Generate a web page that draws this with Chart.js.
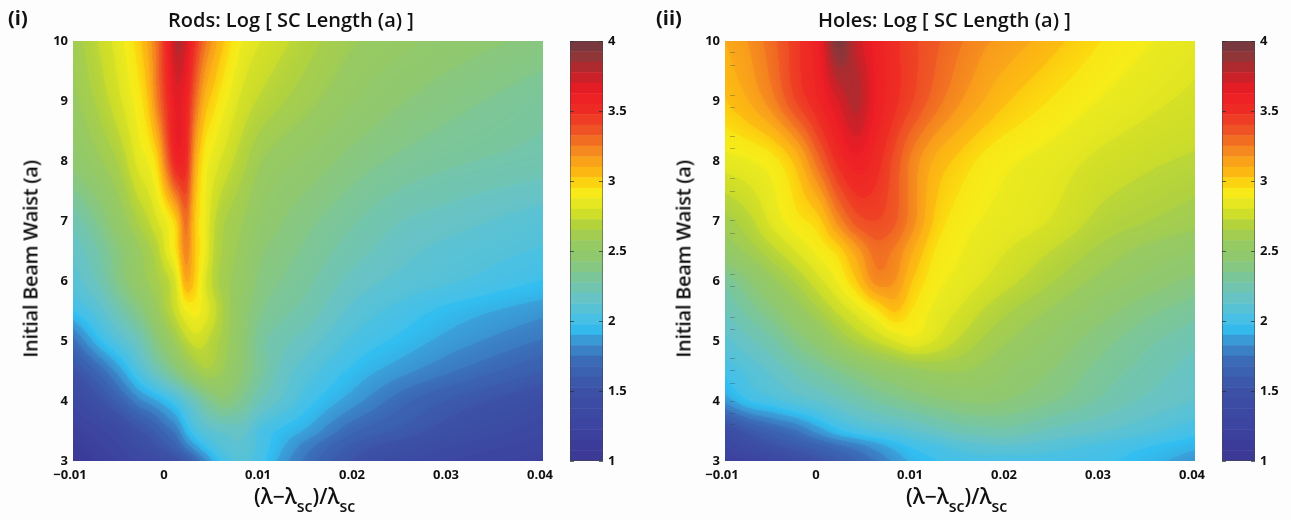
<!DOCTYPE html>
<html>
<head>
<meta charset="utf-8">
<title>SC length maps</title>
<script src="https://cdn.jsdelivr.net/npm/chart.js@4"></script>
<style>
html,body{margin:0;padding:0;background:#fdfdfe;}
#page{position:relative;width:1291px;height:520px;overflow:hidden;filter:blur(0.6px);font-family:"Open Sans",sans-serif;color:#111;}
#page canvas{position:absolute;top:0;}
.txt{position:absolute;white-space:nowrap;}
.panelTitle{top:6px;font-size:20px;font-weight:600;}
.tag{top:4px;font-size:20px;font-weight:700;}
.xt{top:482px;font-size:21px;font-weight:600;}
.xt sub{font-size:16px;vertical-align:-8px;line-height:0;}
.yt{font-size:20px;font-weight:600;letter-spacing:-0.3px;transform:translate(-50%,-50%) rotate(-90deg);top:259px;}
</style>
</head>
<body>
<div id="page">
<canvas id="rods" style="left:0" width="560" height="520"></canvas>
<canvas id="rodsBar" style="left:560px" width="92" height="520"></canvas>
<canvas id="holes" style="left:652px" width="560" height="520"></canvas>
<canvas id="holesBar" style="left:1212px" width="79" height="520"></canvas>
<div class="txt tag" style="left:8px">(i)</div>
<div class="txt panelTitle" style="left:168px">Rods: Log [ SC Length (a) ]</div>
<div class="txt yt" style="left:30px">Initial Beam Waist (a)</div>
<div class="txt xt" style="left:254px">(λ−λ<sub>sc</sub>)/λ<sub>sc</sub></div>
<div class="txt tag" style="left:656px">(ii)</div>
<div class="txt panelTitle" style="left:818px">Holes: Log [ SC Length (a) ]</div>
<div class="txt yt" style="left:683px">Initial Beam Waist (a)</div>
<div class="txt xt" style="left:906px">(λ−λ<sub>sc</sub>)/λ<sub>sc</sub></div>
</div>
<script>
// values, log10 of the SC length
const beamWaist=[10,9,8,7,6.5,6,5.5,5,4.5,4,3.5,3.25,3];
const rodsDetuning=[-0.01,-0.0075,-0.005,-0.003,-0.002,-0.001,0,0.001,0.002,0.003,0.004,0.005,0.006,0.008,0.01,0.0125,0.015,0.02,0.025,0.03,0.04];
const rodsLog=[
[2.60,2.72,2.85,3.00,3.12,3.30,3.55,3.80,3.72,3.48,3.28,3.14,3.03,2.87,2.80,2.74,2.68,2.58,2.52,2.47,2.40],
[2.55,2.66,2.79,2.92,3.03,3.25,3.48,3.66,3.58,3.30,3.08,2.98,2.90,2.78,2.71,2.65,2.60,2.50,2.43,2.38,2.30],
[2.45,2.55,2.67,2.83,2.88,3.00,3.30,3.56,3.52,3.12,2.92,2.84,2.78,2.68,2.58,2.52,2.48,2.39,2.33,2.29,2.24],
[2.22,2.35,2.52,2.66,2.72,2.80,2.88,3.02,3.28,3.02,2.88,2.74,2.66,2.58,2.49,2.42,2.37,2.28,2.20,2.16,2.08],
[2.14,2.26,2.42,2.56,2.62,2.70,2.83,2.96,3.22,3.02,2.88,2.72,2.64,2.55,2.44,2.38,2.33,2.23,2.15,2.10,2.04],
[2.08,2.20,2.38,2.52,2.58,2.64,2.70,2.82,3.10,3.00,2.82,2.70,2.62,2.52,2.40,2.34,2.29,2.17,2.10,2.06,1.97],
[1.97,2.08,2.24,2.38,2.46,2.56,2.66,2.76,2.87,2.90,2.84,2.75,2.65,2.48,2.36,2.29,2.24,2.10,2.02,1.95,1.85],
[1.72,1.93,2.08,2.20,2.30,2.41,2.50,2.60,2.70,2.76,2.74,2.68,2.62,2.46,2.30,2.22,2.16,2.03,1.95,1.87,1.74],
[1.50,1.68,1.87,2.05,2.13,2.22,2.30,2.39,2.48,2.57,2.63,2.62,2.57,2.43,2.30,2.16,2.08,1.95,1.85,1.76,1.60],
[1.33,1.47,1.65,1.80,1.85,1.90,1.96,2.03,2.12,2.21,2.30,2.37,2.41,2.33,2.20,2.10,2.00,1.85,1.70,1.59,1.43],
[1.18,1.27,1.37,1.51,1.56,1.63,1.71,1.78,1.92,2.02,2.08,2.12,2.14,2.15,2.03,1.95,1.88,1.68,1.58,1.47,1.32],
[1.12,1.20,1.30,1.42,1.46,1.52,1.58,1.66,1.78,1.88,1.97,2.03,2.08,2.11,2.02,1.90,1.78,1.58,1.47,1.38,1.25],
[1.05,1.15,1.23,1.30,1.33,1.37,1.42,1.48,1.56,1.68,1.80,1.92,2.00,2.07,2.00,1.85,1.72,1.50,1.38,1.30,1.20]
];
const holesDetuning=[-0.01,-0.0075,-0.005,-0.0025,0,0.002,0.004,0.006,0.008,0.01,0.0125,0.015,0.0175,0.02,0.025,0.03,0.035,0.04];
const holesLog=[
[3.10,3.18,3.30,3.45,3.62,3.95,3.75,3.60,3.50,3.42,3.34,3.26,3.19,3.15,3.05,2.95,2.88,2.83],
[3.02,3.10,3.22,3.40,3.55,3.70,3.80,3.62,3.50,3.40,3.28,3.18,3.10,3.03,2.94,2.87,2.82,2.78],
[2.84,2.87,2.92,3.05,3.30,3.50,3.60,3.52,3.38,3.22,3.08,3.00,2.93,2.89,2.84,2.78,2.74,2.71],
[2.62,2.70,2.82,2.92,3.00,3.20,3.36,3.40,3.34,3.20,3.00,2.91,2.87,2.85,2.79,2.70,2.65,2.60],
[2.50,2.60,2.70,2.80,2.90,2.98,3.14,3.28,3.24,3.10,2.94,2.88,2.84,2.80,2.72,2.63,2.55,2.50],
[2.30,2.42,2.55,2.66,2.78,2.88,3.02,3.20,3.18,3.02,2.90,2.85,2.80,2.75,2.65,2.55,2.47,2.40],
[2.20,2.30,2.40,2.52,2.64,2.74,2.83,2.93,3.03,2.94,2.85,2.79,2.72,2.66,2.56,2.46,2.37,2.30],
[2.10,2.18,2.26,2.37,2.47,2.57,2.66,2.73,2.80,2.85,2.79,2.71,2.64,2.58,2.48,2.38,2.29,2.22],
[2.00,2.07,2.14,2.22,2.29,2.35,2.41,2.47,2.51,2.55,2.58,2.58,2.55,2.50,2.42,2.32,2.24,2.16],
[1.85,1.97,2.02,2.08,2.13,2.18,2.23,2.28,2.32,2.36,2.40,2.43,2.44,2.42,2.35,2.26,2.18,2.12],
[1.42,1.56,1.66,1.74,1.86,1.95,2.01,2.05,2.08,2.12,2.17,2.22,2.24,2.25,2.18,2.13,2.07,2.00],
[1.30,1.40,1.50,1.58,1.66,1.73,1.79,1.86,1.93,1.99,2.03,2.08,2.11,2.12,2.08,2.03,1.98,1.92],
[1.15,1.22,1.30,1.40,1.50,1.58,1.66,1.75,1.84,1.92,1.97,2.00,2.01,2.01,2.01,1.99,1.93,1.85]
];
// faint dashes along the left edge of the holes panel
const holesEdgeMarks=[9.82,9.6,9.1,8.9,8.42,8.22,7.72,7.5,7.02,6.8,6.12,5.92,5.4,5.2,4.72,4.52,4.3,4,3.8,3.62];

const xTicks=[-0.01,0,0.01,0.02,0.03,0.04];
const xTickLabels=["−0.01","0","0.01","0.02","0.03","0.04"];
const yTicks=[3,4,5,6,7,8,9,10];
const barTicks=[1,1.5,2,2.5,3,3.5,4];
const contourLevels=[1,1.075,1.15,1.225,1.3,1.375,1.45,1.525,1.6,1.675,1.75,1.825,1.9,1.975,2.05,2.125,2.2,2.275,2.35,2.425,2.5,2.575,2.65,2.725,2.8,2.875,2.95,3.025,3.1,3.175,3.25,3.325,3.4,3.475,3.55,3.625,3.7,3.775,3.85,3.925,4];
const mapValues=[1,1.05,1.24,1.49,1.7,1.79,1.89,1.96,2,2.15,2.29,2.44,2.56,2.67,2.77,2.89,2.96,3.03,3.13,3.24,3.34,3.49,3.63,3.72,3.81,3.89,4];
const mapColors=["#3f3f8c","#3b3896","#3c44a0","#3c50a6","#3b68b5","#3b80c4","#3aa4dc","#30c3f4","#45c0e8","#66c3c8","#78c6a0","#8ec871","#98ca60","#aed140","#d2df26","#f5ee1c","#fbe010","#fdc010","#faa41a","#f37e20","#ef5a25","#ee2d24","#ee1c25","#d21f26","#b02a2e","#8f3538","#6e3a40"];

const tickFont={family:"'Open Sans',sans-serif",size:13,weight:'700'};

function hexRgb(h){
    return [parseInt(h.substr(1,2),16),parseInt(h.substr(3,2),16),parseInt(h.substr(5,2),16)];
}
function rgbAt(v){
    let i=0;
    while(i<mapValues.length-2 && v>mapValues[i+1]) i++;
    let t=(v-mapValues[i])/(mapValues[i+1]-mapValues[i]);
    t=Math.max(0,Math.min(1,t));
    const a=hexRgb(mapColors[i]), b=hexRgb(mapColors[i+1]);
    return [a[0]+(b[0]-a[0])*t,a[1]+(b[1]-a[1])*t,a[2]+(b[2]-a[2])*t];
}
// colour of the contour band a value falls in
function bandRgb(v){
    let k=0;
    while(k<contourLevels.length-2 && v>=contourLevels[k+1]) k++;
    return rgbAt((contourLevels[k]+contourLevels[k+1])/2);
}
// smooth sample between read values, list is ascending
function sample(list,vals,v){
    let i=0;
    while(i<list.length-2 && v>list[i+1]) i++;
    const d=list[i+1]-list[i];
    const t=Math.max(0,Math.min(1,(v-list[i])/d));
    const m0=i>0?(vals[i+1]-vals[i-1])/(list[i+1]-list[i-1]):(vals[1]-vals[0])/d;
    const m1=i<list.length-2?(vals[i+2]-vals[i])/(list[i+2]-list[i]):(vals[i+1]-vals[i])/d;
    const t2=t*t, t3=t2*t;
    return (2*t3-3*t2+1)*vals[i]+(t3-2*t2+t)*d*m0+(3*t2-2*t3)*vals[i+1]+(t3-t2)*d*m1;
}
// sample the read grid through the chart scales and fill the plot area
const contourPlugin={
    id:'contour',
    beforeDatasetsDraw(chart){
        const ds=chart.data.datasets[0];
        const area=chart.chartArea, xs=chart.scales.x, ys=chart.scales.y;
        const w=Math.round(area.right-area.left), h=Math.round(area.bottom-area.top);
        const off=document.createElement('canvas');
        off.width=w; off.height=h;
        const octx=off.getContext('2d');
        const img=octx.createImageData(w,h);
        const rowsAsc=beamWaist.slice().reverse();
        const gridAsc=ds.grid.slice().reverse();
        let p=0;
        for(let r=0;r<h;r++){
            const yv=ys.getValueForPixel(area.top+r+0.5);
            const line=ds.columns.map((_,i)=>sample(rowsAsc,gridAsc.map(g=>g[i]),yv));
            for(let c=0;c<w;c++){
                const v=sample(ds.columns,line,xs.getValueForPixel(area.left+c+0.5));
                // bands stay faint as in the original
                const a=rgbAt(v), b=bandRgb(v);
                img.data[p++]=a[0]*0.55+b[0]*0.45;
                img.data[p++]=a[1]*0.55+b[1]*0.45;
                img.data[p++]=a[2]*0.55+b[2]*0.45;
                img.data[p++]=255;
            }
        }
        octx.putImageData(img,0,0);
        chart.ctx.drawImage(off,area.left,area.top);
    },
    afterDatasetsDraw(chart){
        const marks=chart.data.datasets[0].edgeMarks||[];
        const c=chart.ctx;
        c.save();
        c.strokeStyle='rgba(50,70,80,0.35)';
        c.lineWidth=1;
        marks.forEach(m=>{
            const y=Math.round(chart.scales.y.getPixelForValue(m))+0.5;
            c.beginPath();
            c.moveTo(chart.chartArea.left+5,y);
            c.lineTo(chart.chartArea.left+10,y);
            c.stroke();
        });
        c.restore();
    }
};

function makeMap(id,columns,grid,marks){
    const points=[];
    beamWaist.forEach((y,r)=>columns.forEach((x,i)=>points.push({x:x,y:y,v:grid[r][i]})));
    new Chart(document.getElementById(id),{
        type:'scatter',
        data:{datasets:[{data:points,pointRadius:0,columns:columns,grid:grid,edgeMarks:marks}]},
        options:{
            responsive:false,
            animation:false,
            layout:{padding:{top:41,right:17,left:0,bottom:0}},
            plugins:{legend:{display:false},tooltip:{enabled:false}},
            scales:{
                x:{
                    type:'linear',min:-0.01,max:0.04,
                    grid:{display:false,drawTicks:false},border:{display:false},
                    afterBuildTicks(s){s.ticks=xTicks.map(v=>({value:v}));},
                    afterFit(s){s.height=59;s.paddingLeft=0;s.paddingRight=0;},
                    ticks:{
                        color:'#111',font:tickFont,padding:6,maxRotation:0,autoSkip:false,labelOffset:-3,
                        callback(v){return xTickLabels[xTicks.indexOf(v)];}
                    }
                },
                y:{
                    type:'linear',min:3,max:10,
                    grid:{display:false,drawTicks:false},border:{display:false},
                    afterBuildTicks(s){s.ticks=yTicks.map(v=>({value:v}));},
                    afterFit(s){s.width=73;s.paddingTop=0;s.paddingBottom=0;},
                    ticks:{color:'#111',font:tickFont,padding:5,autoSkip:false}
                }
            }
        },
        plugins:[contourPlugin]
    });
}

// short ticks inside the colour bar and its thin frame
const barFramePlugin={
    id:'barFrame',
    afterDatasetsDraw(chart){
        const c=chart.ctx, a=chart.chartArea;
        c.save();
        c.strokeStyle='rgba(70,70,70,0.55)';
        c.lineWidth=1;
        c.strokeRect(a.left+0.5,a.top+0.5,a.right-a.left-1,a.bottom-a.top-1);
        c.strokeStyle='rgba(30,50,50,0.7)';
        barTicks.forEach(v=>{
            const y=Math.round(chart.scales.y.getPixelForValue(v))+0.5;
            c.beginPath();c.moveTo(a.left,y);c.lineTo(a.left+4,y);c.stroke();
            c.beginPath();c.moveTo(a.right-4,y);c.lineTo(a.right,y);c.stroke();
        });
        c.restore();
    }
};

function makeBar(id,scaleWidth){
    const sets=[];
    for(let k=0;k<contourLevels.length-1;k++){
        const c=bandRgb(contourLevels[k]+0.001);
        sets.push({
            data:[[contourLevels[k],contourLevels[k+1]]],
            backgroundColor:'rgb('+c.map(Math.round).join(',')+')',
            borderWidth:0,barPercentage:1,categoryPercentage:1
        });
    }
    new Chart(document.getElementById(id),{
        type:'bar',
        data:{labels:['SC'],datasets:sets},
        options:{
            responsive:false,
            animation:false,
            layout:{padding:{top:41,left:10,right:0,bottom:59}},
            plugins:{legend:{display:false},tooltip:{enabled:false}},
            scales:{
                x:{display:false,stacked:true},
                y:{
                    type:'linear',position:'right',min:1,max:4,
                    grid:{display:false,drawTicks:false},border:{display:false},
                    afterBuildTicks(s){s.ticks=barTicks.map(v=>({value:v}));},
                    afterFit(s){s.width=scaleWidth;s.paddingTop=0;s.paddingBottom=0;},
                    ticks:{color:'#111',font:tickFont,padding:5,autoSkip:false,callback(v){return String(v);}}
                }
            }
        },
        plugins:[barFramePlugin]
    });
}

makeMap('rods',rodsDetuning,rodsLog,[]);
makeBar('rodsBar',49);
makeMap('holes',holesDetuning,holesLog,holesEdgeMarks);
makeBar('holesBar',36);
</script>
</body>
</html>
